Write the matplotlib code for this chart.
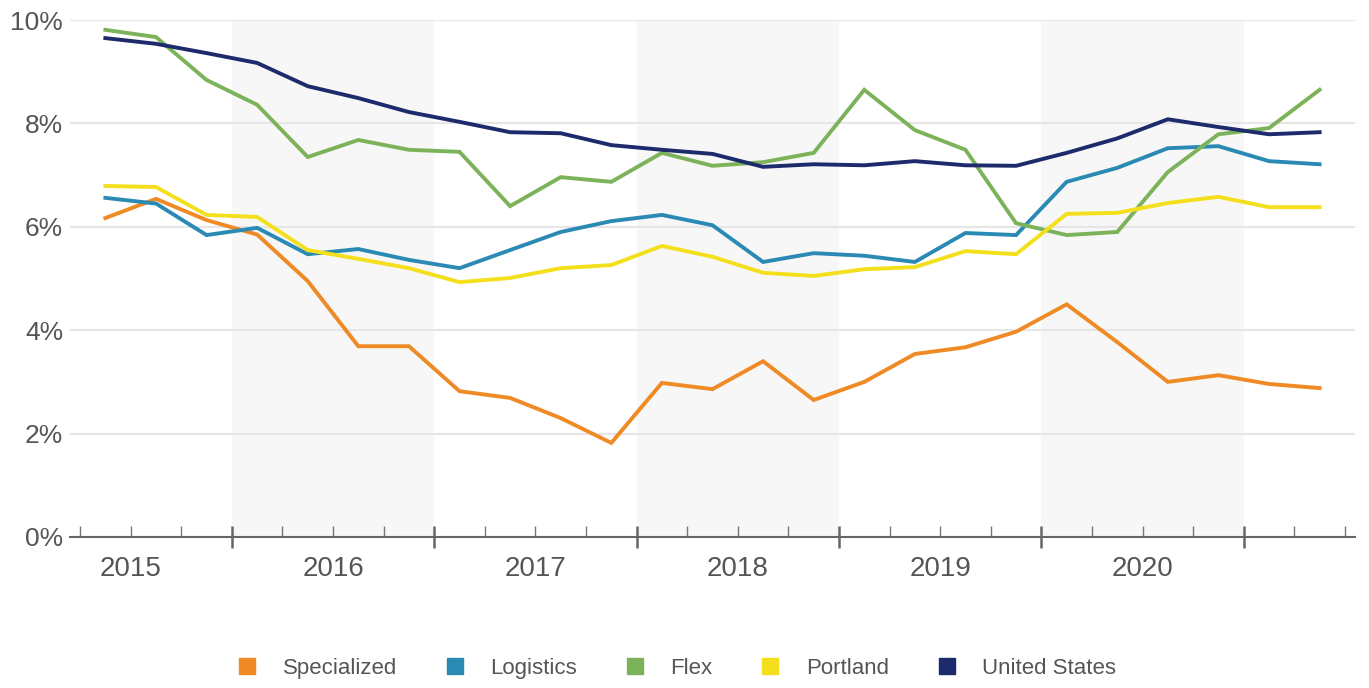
import matplotlib
matplotlib.use("Agg")
import matplotlib.pyplot as plt
from matplotlib.lines import Line2D
import matplotlib.ticker as mtick

plt.rcParams['font.family'] = ['Liberation Sans', 'DejaVu Sans']

# quarterly vacancy, 2015 Q2 .. 2021 Q2
years = [2015]*3 + [2016]*4 + [2017]*4 + [2018]*4 + [2019]*4 + [2020]*4 + [2021]*2
quarters = [2, 3, 4] + [1, 2, 3, 4]*5 + [1, 2]

specialized = [6.17, 6.54, 6.13, 5.85, 4.95, 3.69, 3.69, 2.82, 2.69, 2.30, 1.82, 2.98, 2.86,
               3.40, 2.65, 3.00, 3.54, 3.67, 3.97, 4.50, 3.77, 3.00, 3.13, 2.96, 2.88]
logistics = [6.56, 6.45, 5.84, 5.98, 5.47, 5.57, 5.36, 5.20, 5.55, 5.90, 6.11, 6.23, 6.03,
             5.32, 5.49, 5.44, 5.32, 5.88, 5.84, 6.87, 7.14, 7.52, 7.56, 7.27, 7.21]
flex = [9.81, 9.67, 8.84, 8.36, 7.35, 7.68, 7.49, 7.45, 6.40, 6.96, 6.87, 7.43, 7.18,
        7.25, 7.43, 8.65, 7.87, 7.49, 6.07, 5.84, 5.90, 7.06, 7.79, 7.91, 8.65]
portland = [6.79, 6.77, 6.23, 6.19, 5.55, 5.38, 5.20, 4.93, 5.01, 5.20, 5.26, 5.63, 5.42,
            5.11, 5.05, 5.18, 5.22, 5.53, 5.47, 6.25, 6.27, 6.46, 6.58, 6.38, 6.38]
united_states = [9.65, 9.54, 9.36, 9.17, 8.72, 8.49, 8.22, 8.03, 7.83, 7.81, 7.58, 7.49, 7.41,
                 7.16, 7.21, 7.19, 7.27, 7.19, 7.18, 7.43, 7.71, 8.08, 7.93, 7.79, 7.83]

year_labels = ['2015', '2016', '2017', '2018', '2019', '2020']
series_names = ['Specialized', 'Logistics', 'Flex', 'Portland', 'United States']
colors = ['#ef8a24', '#2a8ab4', '#7cb35a', '#f4df1c', '#1d2a6b']

# x in quarter units, 2015 Q1 starts at 0, points in middle of quarter
x = [(y - 2015)*4 + (q - 1) + 0.5 for y, q in zip(years, quarters)]

fig = plt.figure(figsize=(13.69, 6.88), dpi=100)
ax = fig.add_axes([0.0511, 0.2195, 0.9387, 0.7514])

# alternating year bands
for i in range(1, len(year_labels), 2):
    ax.axvspan(i*4, i*4 + 4, color='#f7f7f7', zorder=0, lw=0)

for vals, c in zip([specialized, logistics, flex, portland, united_states], colors):
    ax.plot(x, vals, color=c, lw=2.8, zorder=3, solid_joinstyle='miter')

ax.set_xlim(0.8, 26.2)
ax.set_ylim(0, 10)

ax.yaxis.set_major_locator(mtick.MultipleLocator(2))
ax.yaxis.set_major_formatter(mtick.FuncFormatter(lambda v, p: '%d%%' % v))
ax.grid(axis='y', color='#e6e6e6', lw=1.5, zorder=1)
ax.tick_params(axis='y', length=0, pad=5, labelsize=19, labelcolor='#555555')

for s in ['top', 'right', 'left']:
    ax.spines[s].set_visible(False)
ax.spines['bottom'].set_color('#666666')
ax.spines['bottom'].set_linewidth(1.5)

major = [4*k for k in range(1, 7)]
minor = [q for q in range(1, 27) if q % 4 != 0]
ax.set_xticks(major)
ax.set_xticklabels([])
ax.set_xticks(minor, minor=True)
ax.set_xticklabels([year_labels[(q - 2)//4] if q % 4 == 2 and (q - 2)//4 < len(year_labels) else ''
                    for q in minor], minor=True)
ax.tick_params(axis='x', which='major', direction='inout', length=16, width=1.8, color='#666666')
ax.tick_params(axis='x', which='minor', direction='in', length=8, width=1.0, color='#777777',
               labelsize=20, labelcolor='#555555', pad=14)

handles = [Line2D([], [], marker='s', ls='none', color=c, markersize=12) for c in colors]
fig.legend(handles, series_names, loc='center', bbox_to_anchor=(0.494, 0.029), ncol=5,
           frameon=False, fontsize=16, handlelength=1.0, handletextpad=1.1, columnspacing=2.1,
           labelcolor='#555555')

fig.savefig('out.png', dpi=100, facecolor='white')
